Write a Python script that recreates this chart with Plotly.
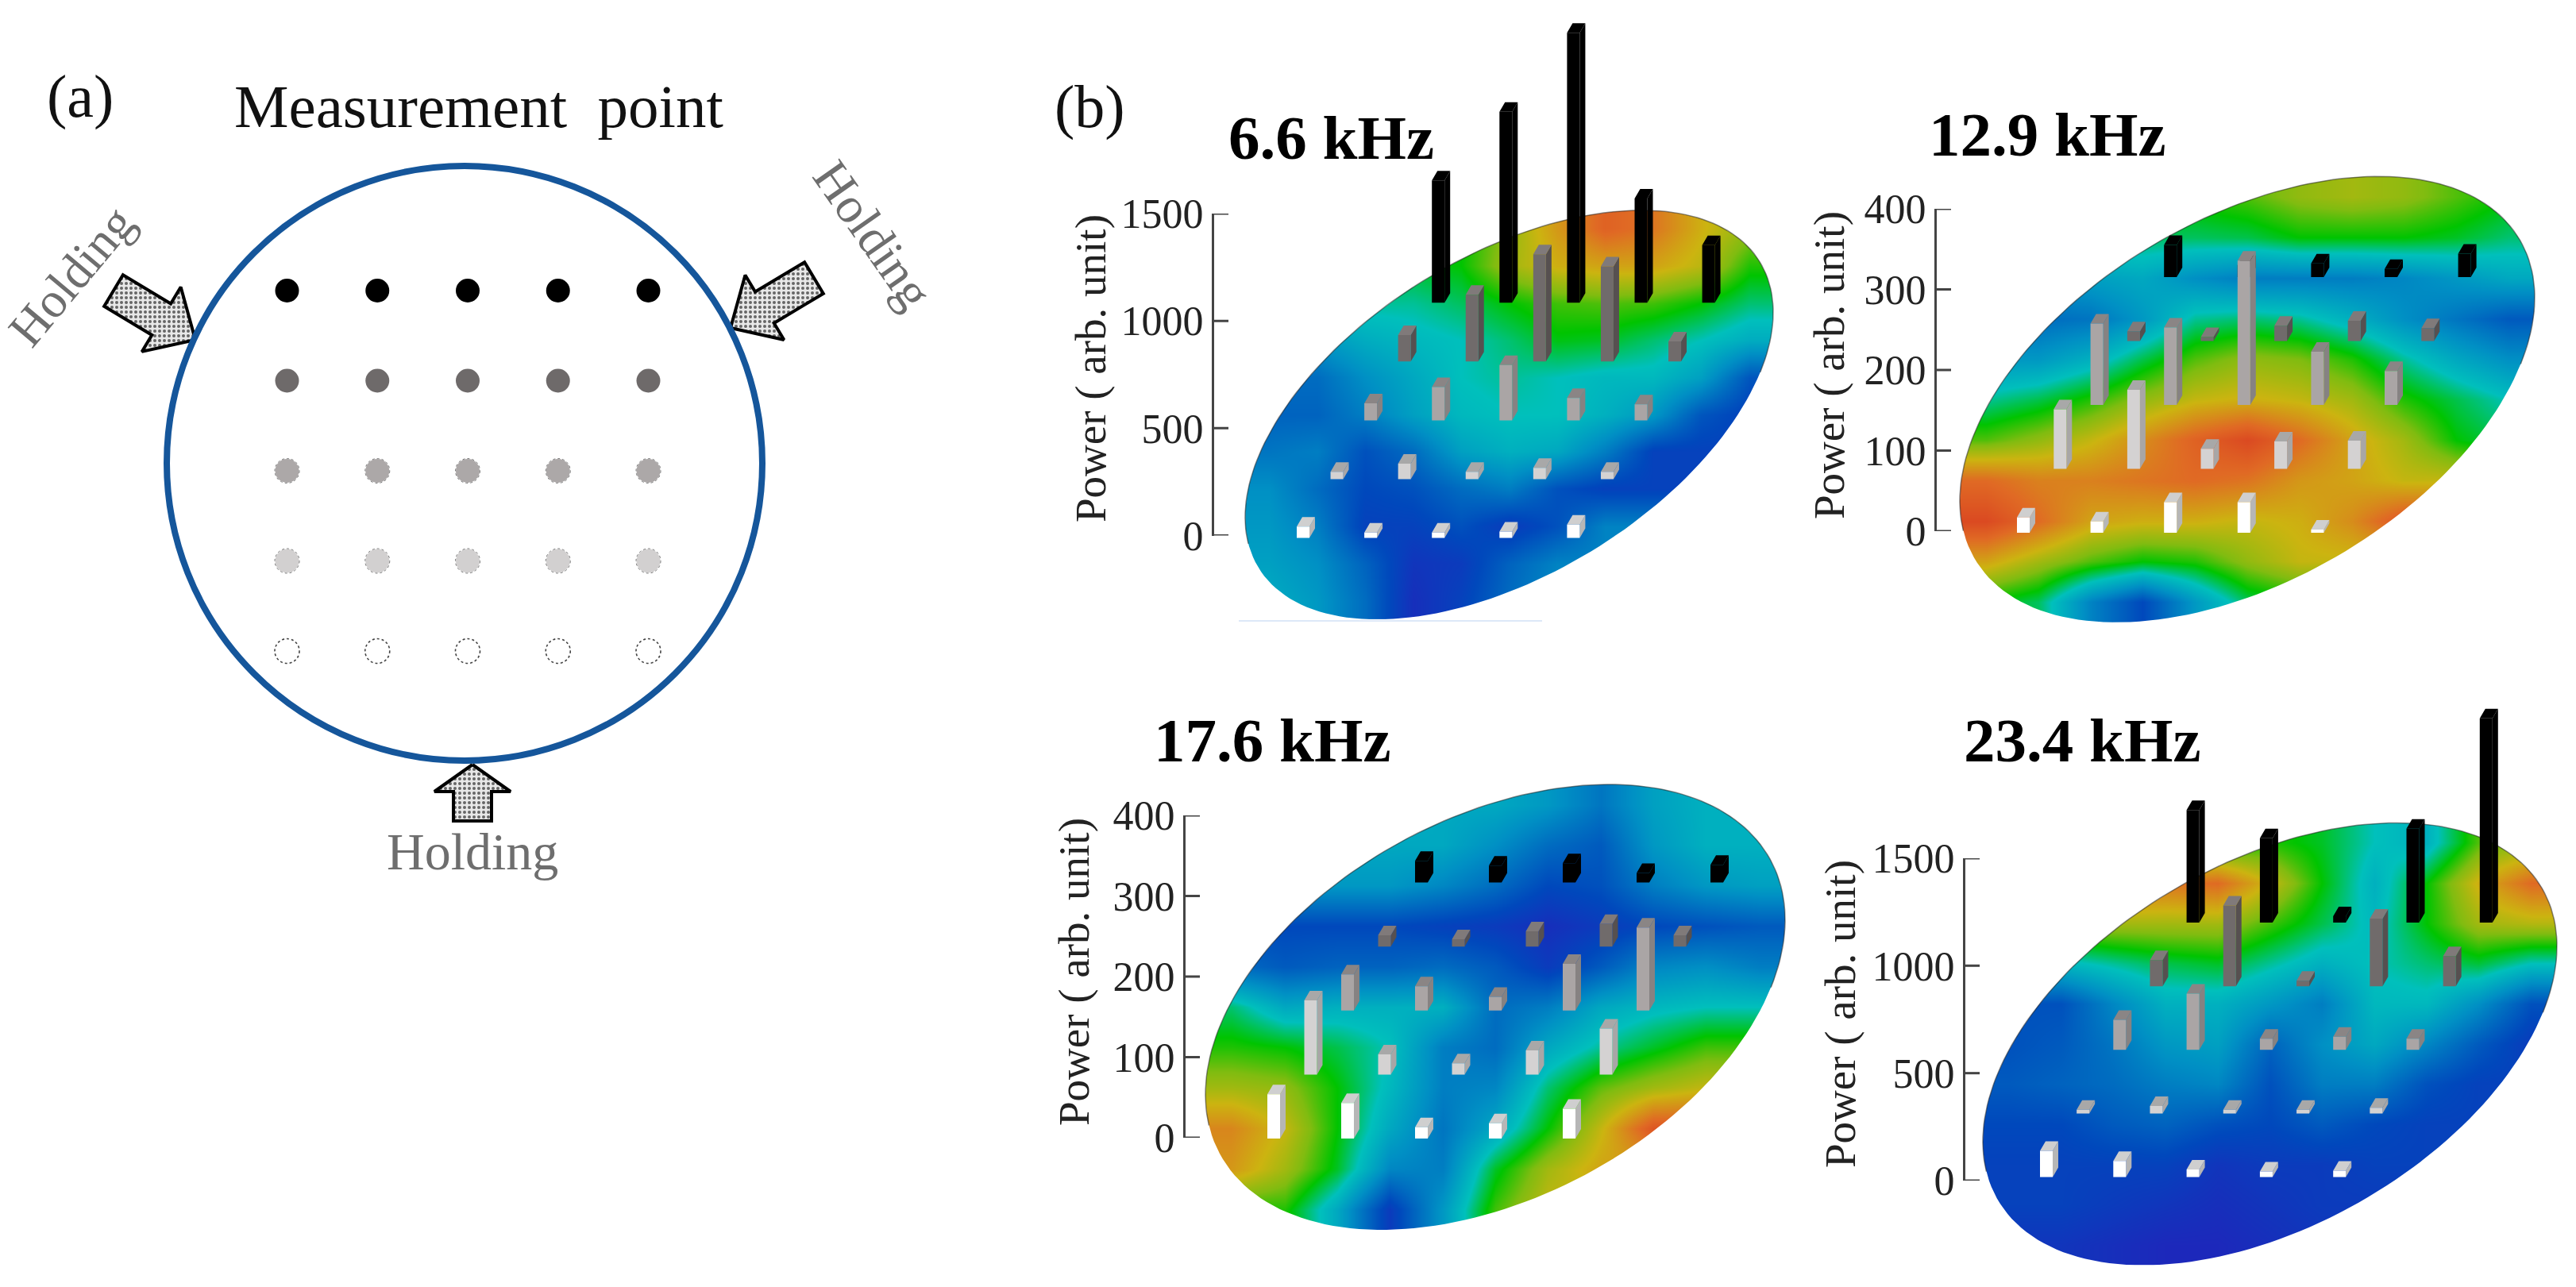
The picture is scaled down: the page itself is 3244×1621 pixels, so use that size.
import numpy as np
import plotly.graph_objects as go

W, H = 3244, 1621
SERIF = "Liberation Serif"

# ---------- data ----------
frequencies = ["6.6 kHz", "12.9 kHz", "17.6 kHz", "23.4 kHz"]
power_ticks_high = [0, 500, 1000, 1500]
power_ticks_low = [0, 100, 200, 300, 400]

# rows run from the front (white) row to the back (black) row
power_66 = [[53, 25, 25, 30, 62], [34, 72, 34, 53, 34], [79, 155, 258, 104, 75],
            [123, 311, 500, 443, 94], [570, 890, 1258, 485, 268]]
power_129 = [[19, 14, 38, 38, 4], [74, 98, 25, 34, 35], [101, 96, 179, 66, 42],
             [12, 5, 19, 25, 16], [40, 15, 17, 10, 29]]
power_176 = [[55, 44, 14, 19, 37], [92, 25, 14, 30, 57], [45, 30, 17, 58, 103],
             [14, 9, 19, 28, 14], [27, 21, 24, 12, 22]]
power_234 = [[122, 75, 35, 26, 30], [17, 35, 17, 17, 26], [140, 262, 52, 61, 52],
             [122, 376, 26, 315, 140], [524, 393, 30, 437, 951]]

# surface colour level (0 blue .. 100 red), top to bottom, left to right
surface_66 = [
    [48, 48, 48, 48, 50, 60, 72, 82, 78, 68, 60],
    [48, 48, 48, 48, 50, 62, 68, 70, 70, 65, 52],
    [42, 42, 42, 42, 45, 50, 54, 55, 54, 50, 44],
    [30, 30, 35, 38, 40, 44, 49, 48, 44, 40, 35],
    [20, 20, 28, 34, 40, 42, 40, 38, 38, 32, 15],
    [18, 18, 24, 32, 38, 40, 40, 36, 30, 15, 10],
    [22, 24, 14, 20, 32, 36, 34, 24, 10, 10, 10],
    [28, 20, 12, 14, 20, 24, 14, 10, 10, 10, 10],
    [30, 24, 10, 10, 14, 8, 14, 25, 25, 25, 25],
    [32, 28, 18, 6, 8, 18, 25, 25, 25, 25, 25],
    [35, 30, 20, 4, 10, 20, 28, 28, 28, 28, 28]]
surface_129 = [
    [52, 52, 52, 52, 52, 55, 60, 62, 60, 55, 50],
    [45, 45, 45, 45, 45, 46, 50, 50, 50, 48, 44],
    [30, 30, 32, 34, 28, 24, 24, 24, 26, 30, 34],
    [22, 20, 22, 30, 42, 44, 42, 36, 28, 22, 16],
    [30, 30, 36, 46, 55, 60, 58, 52, 42, 34, 28],
    [42, 46, 52, 60, 66, 68, 66, 62, 52, 46, 40],
    [55, 60, 66, 74, 82, 88, 80, 70, 62, 50, 45],
    [80, 76, 76, 78, 80, 78, 72, 70, 66, 66, 66],
    [88, 80, 70, 68, 68, 66, 68, 74, 85, 85, 85],
    [70, 62, 55, 50, 52, 60, 66, 66, 66, 66, 66],
    [50, 45, 25, 12, 30, 45, 50, 50, 50, 50, 50]]
surface_176 = [
    [36, 36, 36, 36, 34, 34, 30, 22, 32, 36, 36],
    [34, 34, 34, 34, 34, 28, 20, 16, 30, 36, 36],
    [30, 30, 30, 30, 26, 20, 12, 14, 24, 30, 32],
    [12, 12, 12, 12, 10, 8, 4, 8, 12, 14, 16],
    [20, 16, 18, 18, 20, 16, 8, 16, 26, 28, 24],
    [44, 34, 36, 36, 36, 20, 24, 34, 38, 40, 40],
    [52, 50, 46, 40, 24, 20, 34, 42, 48, 54, 54],
    [62, 60, 50, 38, 24, 26, 44, 56, 62, 66, 66],
    [75, 66, 50, 34, 22, 34, 50, 66, 85, 85, 85],
    [72, 62, 48, 26, 24, 48, 62, 70, 70, 70, 70],
    [52, 52, 34, 8, 30, 54, 66, 66, 66, 66, 66]]
surface_234 = [
    [50, 50, 50, 50, 50, 52, 48, 40, 36, 55, 60],
    [80, 80, 80, 78, 80, 66, 50, 36, 50, 68, 80],
    [60, 60, 62, 62, 62, 54, 46, 38, 50, 62, 64],
    [38, 38, 42, 46, 48, 42, 36, 40, 44, 47, 40],
    [14, 14, 26, 36, 36, 30, 24, 38, 38, 28, 14],
    [14, 16, 22, 30, 32, 18, 28, 34, 26, 16, 8],
    [16, 18, 20, 24, 26, 14, 24, 24, 14, 10, 10],
    [12, 12, 16, 18, 14, 12, 16, 12, 10, 10, 10],
    [10, 10, 10, 10, 6, 8, 8, 10, 10, 10, 10],
    [10, 10, 8, 6, 4, 6, 8, 8, 8, 8, 8],
    [6, 6, 4, 2, 2, 4, 6, 6, 6, 6, 6]]

# panel (a) grid
point_columns = [1, 2, 3, 4, 5]
point_rows = [1, 2, 3, 4, 5]

# ---------- styles and placement ----------
JET = [[0, "#2222bb"], [0.12, "#0048bc"], [0.28, "#0090c4"], [0.4, "#00c0bc"],
       [0.5, "#00c400"], [0.58, "#80bc10"], [0.67, "#ccb410"], [0.8, "#e06a24"],
       [0.92, "#d83a20"], [1, "#b81000"]]
ROW_FRONT = ["#ffffff", "#d4d2d2", "#aaa5a5", "#706b6b", "#000000"]
ROW_SIDE = ["#b6b6b6", "#a8a6a6", "#868282", "#565050", "#000000"]
ROW_TOP = ["#cfcfcf", "#a8a8a8", "#8a8585", "#807a7a", "#000000"]
DOT_COLORS = ["#000000", "#6e6a6a", "#aca8a8", "#d2d0d0", "#ffffff"]

PANELS = [
    dict(power=power_66, surf=surface_66, title=frequencies[0], tx=1676, ty=173,
         dom=(1500, 2250, 0, 800), x0=1633, xs=85.1, y_zero=674.5, pu=0.2703, y0=677.6, ys=74.1,
         ax=1529, ticks=power_ticks_high, ttx=1373, tty=464, c=(1900.5, 522.5), Wx=332.5, k=-129, vy=223),
    dict(power=power_129, surf=surface_129, title=frequencies[1], tx=2578, ty=169,
         dom=(2400, 3244, 190, 800), x0=2540, xs=92.6, y_zero=669, pu=1.015, y0=671, ys=80.5,
         ax=2439, ticks=power_ticks_low, ttx=2303, tty=460, c=(2830, 503), Wx=362, k=-128, vy=250),
    dict(power=power_176, surf=surface_176, title=frequencies[2], tx=1602, ty=932,
         dom=(1480, 2260, 960, 1600), x0=1596, xs=93, y_zero=1433, pu=1.015, y0=1434, ys=80.6,
         ax=1493, ticks=power_ticks_low, ttx=1352, tty=1224, c=(1883, 1268.5), Wx=365, k=-110, vy=258),
    dict(power=power_234, surf=surface_234, title=frequencies[3], tx=2622, ty=932,
         dom=(2460, 3244, 880, 1621), x0=2569, xs=92.3, y_zero=1487, pu=0.2707, y0=1482.5, ys=80.1,
         ax=2475, ticks=power_ticks_high, ttx=2317, tty=1277, c=(2858.5, 1315), Wx=361.5, k=-123, vy=250),
]
BAR_W, BAR_DX, BAR_DY = 16, 7, 12
TICK_LEN = 18

fig = go.Figure()
layout = dict(width=W, height=H, margin=dict(l=0, r=0, t=0, b=0, pad=0, autoexpand=False), paper_bgcolor="white",
              plot_bgcolor="rgba(0,0,0,0)", showlegend=False, template="none",
              font=dict(family=SERIF, color="#111"))
annotations, shapes = [], []


def note(text, px, py, size, color="#111", angle=0, bold=False):
    annotations.append(dict(text=f"<b>{text}</b>" if bold else text, xref="paper", yref="paper",
                            x=px / W, y=1 - py / H, xanchor="center", yanchor="middle", showarrow=False,
                            textangle=angle, font=dict(family=SERIF, size=size, color=color)))


def hidden_axes(n, L, R, T, B, xr, yr):
    layout[f"xaxis{n}"] = dict(domain=[L / W, R / W], range=xr, visible=False, anchor=f"y{n}", fixedrange=True,
                               automargin=False)
    layout[f"yaxis{n}"] = dict(domain=[1 - B / H, 1 - T / H], range=yr, visible=False, anchor=f"x{n}", fixedrange=True,
                               automargin=False)


# ---------- panel (a) ----------
AL, AR, AT, AB = 0, 1300, 0, 1120
ASTEP_X, ASTEP_Y = 113.75, 113.5
ax_x = lambda px: 3 + (px - 589) / ASTEP_X
ax_y = lambda py: 3 + (py - 593) / ASTEP_Y
hidden_axes(1, AL, AR, AT, AB, [ax_x(AL), ax_x(AR)], [ax_y(AB), ax_y(AT)])

for r, row in enumerate(point_rows):
    fig.add_trace(go.Scatter(x=point_columns, y=[row] * 5, mode="markers", xaxis="x1", yaxis="y1",
                             marker=dict(size=30, color=DOT_COLORS[r], line=dict(width=0)), hoverinfo="skip"))
    if r > 1:
        ring = dict(color="#444", width=1.6, dash="dot") if r == 4 else dict(color="#777", width=1, dash="dot")
        for col in point_columns:
            shapes.append(dict(type="circle", xref="x1", yref="y1", x0=col - 15.5 / ASTEP_X, x1=col + 15.5 / ASTEP_X,
                               y0=row - 15.5 / ASTEP_Y, y1=row + 15.5 / ASTEP_Y, line=ring))
shapes.append(dict(type="circle", xref="x1", yref="y1", x0=ax_x(210), x1=ax_x(960), y0=ax_y(209), y1=ax_y(958),
                   line=dict(color="#15569b", width=8)))


def arrow(tipx, tipy, tailx, taily, head_len, shaft_w=46, head_w=95):
    d = np.array([tipx - tailx, tipy - taily], float)
    length = np.hypot(*d)
    d /= length
    n = np.array([-d[1], d[0]])
    tip = np.array([tipx, tipy], float)
    neck = tip - d * head_len
    tail = tip - d * length
    pts = [tip, neck + n * head_w / 2, neck + n * shaft_w / 2, tail + n * shaft_w / 2,
           tail - n * shaft_w / 2, neck - n * shaft_w / 2, neck - n * head_w / 2, tip]
    fig.add_trace(go.Scatter(x=[ax_x(p[0]) for p in pts], y=[ax_y(p[1]) for p in pts], mode="lines",
                             xaxis="x1", yaxis="y1", fill="toself", fillcolor="#b0b0b0",
                             fillpattern=dict(shape=".", fgcolor="#666666", bgcolor="#e8e8e8", size=6, solidity=0.35),
                             line=dict(color="#000", width=4), hoverinfo="skip"))


arrow(246, 428, 143, 366, 50)
arrow(920, 413, 1025, 350, 50)
arrow(595, 963, 595, 1034, 34, 48, 96)

note("(a)", 101, 122, 76)
note("Measurement  point", 603, 134, 77)
note("Holding", 90, 348, 63, "#6e6e6e", -50)
note("Holding", 1099, 296, 64, "#6e6e6e", 55)
note("Holding", 595, 1072, 66, "#6e6e6e")
note("(b)", 1372, 134, 76)

# ---------- panel (b) ----------
for idx, p in enumerate(PANELS):
    n = idx + 2
    L, R, T, B = p["dom"]
    fx = lambda px, p=p: (px - p["x0"]) / p["xs"]
    fy = lambda py, p=p: (p["y_zero"] - py) / p["pu"]
    hidden_axes(n, L, R, T, B, [fx(L), fx(R)], [fy(B), fy(T)])
    xa, ya = f"x{n}", f"y{n}"

    cx, cy = p["c"]
    Hy = np.hypot(p["k"], p["vy"])
    left, right, top, bottom = cx - p["Wx"], cx + p["Wx"], cy - Hy, cy + Hy
    z = np.array(p["surf"], float)
    rows_n, cols_n = z.shape
    gx = [fx(left + (i + 0.5) * (right - left) / cols_n) for i in range(cols_n)]
    gy = [fy(top + (i + 0.5) * (bottom - top) / rows_n) for i in range(rows_n)]
    fig.add_trace(go.Heatmap(x=gx, y=gy, z=z, zmin=0, zmax=100, colorscale=JET, zsmooth="best",
                             showscale=False, xaxis=xa, yaxis=ya, hoverinfo="skip"))

    # white mask leaving only the tilted disc
    t = np.linspace(2 * np.pi, 0, 181)
    ex = cx + p["Wx"] * np.cos(t)
    ey = cy + p["k"] * np.cos(t) + p["vy"] * np.sin(t)
    pad = 3
    rx = [left - pad, right + pad, right + pad, left - pad, left - pad]
    ry = [top - pad, top - pad, bottom + pad, bottom + pad, top - pad]
    mx = rx[:2] + [right + pad] + [ex[0]] + list(ex) + [right + pad] + rx[2:]
    my = ry[:2] + [cy + p["k"]] + [ey[0]] + list(ey) + [cy + p["k"]] + ry[2:]
    fig.add_trace(go.Scatter(x=[fx(v) for v in mx], y=[fy(v) for v in my], mode="lines", fill="toself",
                             fillcolor="white", line=dict(width=0), xaxis=xa, yaxis=ya, hoverinfo="skip"))
    # dark rim on the upper edge of the disc
    tr = np.linspace(np.pi * 0.95, np.pi * 2.1, 120)
    rimx = cx + p["Wx"] * np.cos(tr)
    rimy = cy + p["k"] * np.cos(tr) + p["vy"] * np.sin(tr)
    fig.add_trace(go.Scatter(x=[fx(v) for v in rimx], y=[fy(v) for v in rimy], mode="lines",
                             line=dict(color="rgba(40,40,40,0.55)", width=1.5), xaxis=xa, yaxis=ya, hoverinfo="skip"))

    # extruded bars, back row first
    w, dx, dy = BAR_W / p["xs"], BAR_DX / p["xs"], BAR_DY / p["pu"]
    base0, row_step = fy(p["y0"]), p["ys"] / p["pu"]
    for i in range(4, -1, -1):
        fx_, fy_, sx, sy, tx_, ty_ = [], [], [], [], [], []
        for j, v in enumerate(p["power"][i]):
            X = j + 0.5 * i
            b = base0 + i * row_step
            fx_ += [X, X + w, X + w, X, X, None]
            fy_ += [b, b, b + v, b + v, b, None]
            sx += [X + w, X + w + dx, X + w + dx, X + w, X + w, None]
            sy += [b, b + dy, b + v + dy, b + v, b, None]
            tx_ += [X, X + w, X + w + dx, X + dx, X, None]
            ty_ += [b + v, b + v, b + v + dy, b + v + dy, b + v, None]
        for xs_, ys_, col in ((sx, sy, ROW_SIDE[i]), (tx_, ty_, ROW_TOP[i]), (fx_, fy_, ROW_FRONT[i])):
            fig.add_trace(go.Scatter(x=xs_, y=ys_, mode="lines", fill="toself", fillcolor=col,
                                     line=dict(width=0), xaxis=xa, yaxis=ya, hoverinfo="skip"))

    # the power axis: a narrow subplot whose width is the tick length
    m = n + 4
    ticks = p["ticks"]
    py_top = p["y_zero"] - ticks[-1] * p["pu"]
    layout[f"xaxis{m}"] = dict(domain=[p["ax"] / W, (p["ax"] + TICK_LEN) / W], range=[0, 1], visible=False,
                               anchor=f"y{m}", fixedrange=True, automargin=False)
    layout[f"yaxis{m}"] = dict(domain=[1 - p["y_zero"] / H, 1 - py_top / H], range=[0, ticks[-1]],
                               anchor=f"x{m}", side="left", showline=True, linecolor="#444", linewidth=3,
                               ticks="", tickvals=ticks, automargin=False,
                               ticktext=[str(v) for v in ticks], showgrid=False, zeroline=False, fixedrange=True,
                               ticklabelstandoff=0,
                               tickfont=dict(family=SERIF, size=52, color="#222"))
    tick_x, tick_y = [], []
    for v in ticks:
        tick_x += [0, 1, None]
        tick_y += [v, v, None]
    fig.add_trace(go.Scatter(x=tick_x, y=tick_y, mode="lines", line=dict(color="#444", width=3),
                             xaxis=f"x{m}", yaxis=f"y{m}", hoverinfo="skip", cliponaxis=False))

    note("Power ( arb. unit)", p["ttx"], p["tty"], 55, "#222", -90)
    note(p["title"], p["tx"], p["ty"], 79, "#000", 0, True)

# faint line under the first disc
shapes.append(dict(type="line", xref="paper", yref="paper", x0=1560 / W, x1=1942 / W,
                   y0=1 - 782 / H, y1=1 - 782 / H, line=dict(color="#dde8f8", width=2)))

layout["annotations"] = annotations
layout["shapes"] = shapes
fig.update_layout(**layout)
fig.write_html("out.html", post_script="document.body.style.margin='0';document.body.style.overflow='hidden';",
               config=dict(displayModeBar=False))
